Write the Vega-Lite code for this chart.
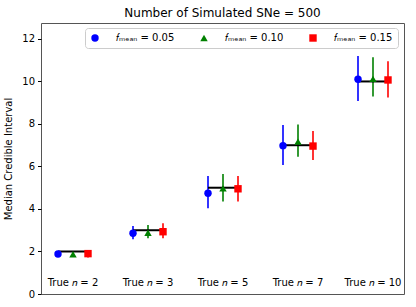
{
  "$schema": "https://vega.github.io/schema/vega-lite/v6.json",
  "width": 363,
  "height": 271,
  "autosize": "none",
  "padding": {"left": 41, "top": 23, "right": 12, "bottom": 13},
  "title": {"text": "Number of Simulated SNe = 500", "fontSize": 12, "fontWeight": "normal", "font": "DejaVu Sans", "color": "black", "offset": 3},
  "datasets": {
    "stats": [
      {"group": "True n = 2", "f": "𝑓ₘₑₐₙ = 0.05", "true": 2, "median": 1.88, "lo": 1.80, "hi": 1.98},
      {"group": "True n = 2", "f": "𝑓ₘₑₐₙ = 0.10", "true": 2, "median": 1.87, "lo": 1.79, "hi": 1.96},
      {"group": "True n = 2", "f": "𝑓ₘₑₐₙ = 0.15", "true": 2, "median": 1.90, "lo": 1.72, "hi": 2.07},
      {"group": "True n = 3", "f": "𝑓ₘₑₐₙ = 0.05", "true": 3, "median": 2.86, "lo": 2.57, "hi": 3.20},
      {"group": "True n = 3", "f": "𝑓ₘₑₐₙ = 0.10", "true": 3, "median": 2.88, "lo": 2.62, "hi": 3.25},
      {"group": "True n = 3", "f": "𝑓ₘₑₐₙ = 0.15", "true": 3, "median": 2.93, "lo": 2.62, "hi": 3.33},
      {"group": "True n = 5", "f": "𝑓ₘₑₐₙ = 0.05", "true": 5, "median": 4.74, "lo": 4.03, "hi": 5.55},
      {"group": "True n = 5", "f": "𝑓ₘₑₐₙ = 0.10", "true": 5, "median": 4.97, "lo": 4.35, "hi": 5.65},
      {"group": "True n = 5", "f": "𝑓ₘₑₐₙ = 0.15", "true": 5, "median": 4.95, "lo": 4.35, "hi": 5.55},
      {"group": "True n = 7", "f": "𝑓ₘₑₐₙ = 0.05", "true": 7, "median": 6.98, "lo": 6.07, "hi": 7.95},
      {"group": "True n = 7", "f": "𝑓ₘₑₐₙ = 0.10", "true": 7, "median": 7.17, "lo": 6.46, "hi": 7.98},
      {"group": "True n = 7", "f": "𝑓ₘₑₐₙ = 0.15", "true": 7, "median": 6.96, "lo": 6.31, "hi": 7.67},
      {"group": "True n = 10", "f": "𝑓ₘₑₐₙ = 0.05", "true": 10, "median": 10.10, "lo": 9.08, "hi": 11.20},
      {"group": "True n = 10", "f": "𝑓ₘₑₐₙ = 0.10", "true": 10, "median": 10.12, "lo": 9.29, "hi": 11.14},
      {"group": "True n = 10", "f": "𝑓ₘₑₐₙ = 0.15", "true": 10, "median": 10.07, "lo": 9.25, "hi": 10.95}
    ],
    "groups": [
      {"group": "True n = 2", "label": "True 𝑛 = 2"},
      {"group": "True n = 3", "label": "True 𝑛 = 3"},
      {"group": "True n = 5", "label": "True 𝑛 = 5"},
      {"group": "True n = 7", "label": "True 𝑛 = 7"},
      {"group": "True n = 10", "label": "True 𝑛 = 10"}
    ]
  },
  "encoding": {
    "x": {
      "field": "group", "type": "nominal",
      "sort": ["True n = 2", "True n = 3", "True n = 5", "True n = 7", "True n = 10"],
      "scale": {"type": "band", "domain": ["True n = 2", "True n = 3", "True n = 5", "True n = 7", "True n = 10"], "range": [-5.5, 369.5], "paddingInner": 0, "paddingOuter": 0},
      "axis": null
    }
  },
  "layer": [
    {
      "data": {"name": "stats"},
      "mark": {"type": "rule", "strokeWidth": 1.6},
      "encoding": {
        "xOffset": {"field": "f", "type": "nominal", "scale": {"type": "point", "range": [22.5, 52.5], "padding": 0}},
        "y": {"field": "lo", "type": "quantitative", "scale": {"domain": [0, 12.75], "nice": false, "zero": true},
          "axis": {"title": "Median Credible Interval", "values": [0, 2, 4, 6, 8, 10, 12], "grid": false, "domain": false, "tickSize": 3.5, "tickColor": "black", "labelColor": "black", "labelFontSize": 10, "labelFont": "DejaVu Sans", "titleFont": "DejaVu Sans", "titleFontSize": 10, "titleFontWeight": "normal", "titleColor": "black", "titlePadding": 8, "labelPadding": 3}},
        "y2": {"field": "hi"},
        "color": {"field": "f", "type": "nominal", "scale": {"range": ["#0000ff", "#008000", "#ff0000"]}, "legend": null}
      }
    },
    {
      "data": {"name": "stats"},
      "mark": {"type": "line", "color": "black", "strokeWidth": 2},
      "encoding": {
        "xOffset": {"field": "f", "type": "nominal", "scale": {"type": "point", "range": [22.5, 52.5], "padding": 0}},
        "y": {"field": "true", "type": "quantitative"},
        "detail": {"field": "group"}
      }
    },
    {
      "data": {"name": "stats"},
      "mark": {"type": "point", "filled": true, "opacity": 1, "size": 55},
      "encoding": {
        "xOffset": {"field": "f", "type": "nominal", "scale": {"type": "point", "range": [22.5, 52.5], "padding": 0}},
        "y": {"field": "median", "type": "quantitative"},
        "color": {"field": "f", "type": "nominal", "scale": {"range": ["#0000ff", "#008000", "#ff0000"]}, "legend": null},
        "shape": {"field": "f", "type": "nominal", "scale": {"range": ["circle", "triangle-up", "square"]}, "legend": null}
      }
    },
    {
      "data": {"name": "stats"},
      "transform": [{"filter": "datum.group === 'True n = 2'"}],
      "mark": {"type": "point", "filled": true, "opacity": 0, "size": 55},
      "encoding": {
        "y": {"field": "median", "type": "quantitative"},
        "fill": {"field": "f", "type": "nominal", "scale": {"range": ["#0000ff", "#008000", "#ff0000"]},
          "legend": {"title": null, "orient": "none", "legendX": 44, "legendY": 5, "direction": "horizontal", "columnPadding": 24, "padding": 5, "strokeColor": "#cccccc", "fillColor": "white", "cornerRadius": 3, "labelFontSize": 10, "labelFont": "DejaVu Sans", "labelColor": "black", "symbolSize": 55, "symbolOpacity": 1, "labelOffset": 16,
            "encode": {"symbols": {"update": {"shape": {"signal": "datum.index === 0 ? 'circle' : datum.index === 1 ? 'triangle-up' : 'square'"}}}}}}
      }
    },
    {
      "data": {"name": "groups"},
      "mark": {"type": "text", "fontSize": 10, "font": "DejaVu Sans", "color": "black"},
      "encoding": {
        "y": {"datum": 0.52},
        "text": {"field": "label"}
      }
    }
  ],
  "config": {
    "view": {"stroke": "#555555", "strokeWidth": 1},
    "axis": {"labelFont": "DejaVu Sans"}
  }
}
